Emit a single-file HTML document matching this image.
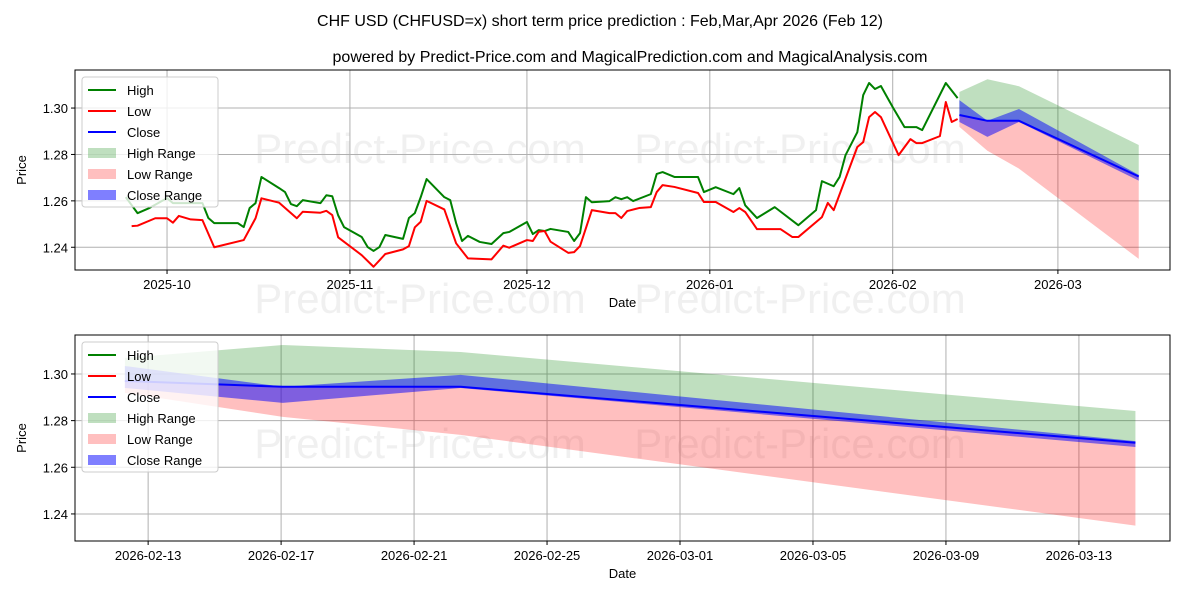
<!DOCTYPE html>
<html><head><meta charset="utf-8"><style>
body{margin:0;background:#fff;}
svg{display:block;font-family:"Liberation Sans","DejaVu Sans",sans-serif;}
</style></head><body>
<svg id="c" width="1200" height="600" viewBox="0 0 1200 600">
<text x="600" y="26" text-anchor="middle" font-size="16">CHF USD (CHFUSD=x) short term price prediction : Feb,Mar,Apr 2026 (Feb 12)</text>
<text x="630" y="62" text-anchor="middle" font-size="16">powered by Predict-Price.com and MagicalPrediction.com and MagicalAnalysis.com</text>
</svg>
<script>
// day offsets from 2025-10-01
const histDays=[-7,-5,-3,0,1,6,7,8,12,13,14,15,16,19,20,21,22,23,26,27,28,29,30,33,34,35,36,37,40,41,42,43,44,47,48,49,50,51,53,55,57,58,61,62,63,64,65,68,69,70,71,72,75,76,77,78,79,82,83,84,86,90,91,93,96,97,98,100,103,107,110,111,113,114,115,117,118,119,120,121,123,125,127,128,132,134];
const highVals=[1.2616,1.2547,1.2569,1.2612,1.2590,1.2590,1.2526,1.2504,1.2504,1.2487,1.2569,1.2590,1.2703,1.2655,1.2638,1.2586,1.2577,1.2603,1.2590,1.2624,1.2620,1.2538,1.2487,1.2444,1.2401,1.2384,1.2401,1.2453,1.2436,1.2526,1.2547,1.2616,1.2694,1.2616,1.2603,1.2504,1.2427,1.2449,1.2423,1.2414,1.2461,1.2466,1.2509,1.2457,1.2474,1.2470,1.2479,1.2466,1.2427,1.2461,1.2616,1.2594,1.2599,1.2616,1.2607,1.2616,1.2599,1.2629,1.2716,1.2724,1.2703,1.2703,1.2638,1.2659,1.2629,1.2655,1.2581,1.2526,1.2573,1.2495,1.2560,1.2685,1.2663,1.2703,1.2797,1.2896,1.3056,1.3108,1.3082,1.3095,1.3004,1.2918,1.2918,1.2905,1.3108,1.3043];
const lowDays=[-6,-5,-2,0,1,2,4,6,8,13,15,16,19,22,23,26,27,28,29,33,35,37,40,41,42,43,44,47,49,51,55,57,58,61,62,63,64,65,68,69,70,72,75,76,77,78,80,82,83,84,86,90,91,93,96,97,98,100,104,106,107,111,112,113,117,118,119,120,121,124,126,127,128,131,132,133,134];
const lowVals=[1.2491,1.2493,1.2525,1.2525,1.2506,1.2535,1.2520,1.2517,1.2400,1.2431,1.2525,1.2611,1.2592,1.2525,1.2553,1.2549,1.2557,1.2539,1.2443,1.2366,1.2316,1.2371,1.2391,1.2405,1.2486,1.2510,1.2600,1.2563,1.2417,1.2352,1.2348,1.2407,1.2398,1.2431,1.2427,1.2467,1.2470,1.2424,1.2376,1.2379,1.2405,1.2560,1.2547,1.2547,1.2526,1.2556,1.2569,1.2573,1.2638,1.2668,1.2660,1.2634,1.2595,1.2595,1.2552,1.2569,1.2552,1.2478,1.2478,1.2444,1.2444,1.2530,1.2591,1.2560,1.2832,1.2853,1.2961,1.2983,1.2961,1.2797,1.2866,1.2849,1.2849,1.2879,1.3026,1.2940,1.2953];
const predDays=[134.3,139.05,144.4,164.7];
const closeVals=[1.2970,1.2945,1.2945,1.2705];
const closeUpper=[1.3034,1.2945,1.2996,1.2712];
const closeLower=[1.2940,1.2876,1.2940,1.2687];
const highUpper=[1.3069,1.3124,1.3094,1.2841];
const lowLower=[1.2919,1.2816,1.2739,1.2350];
const topTickLabels=['2025-10','2025-11','2025-12','2026-01','2026-02','2026-03'];
const topTickDays=[0,31,61,92,123,151];
const botTickLabels=['2026-02-13','2026-02-17','2026-02-21','2026-02-25','2026-03-01','2026-03-05','2026-03-09','2026-03-13'];
const botTickDays=[135,139,143,147,151,155,159,163];
const yTicks=[1.24,1.26,1.28,1.30];

const NS='http://www.w3.org/2000/svg';
const svg=document.getElementById('c');
function mk(t,a,p){const e=document.createElementNS(NS,t);for(const k in a)e.setAttribute(k,a[k]);(p||svg).appendChild(e);return e;}

function panel(P){
  const g=mk('g',{});
  
  
  const X=d=>P.x0+(d-P.d0)/(P.d1-P.d0)*(P.x1-P.x0);
  const Y=v=>P.y1-(v-P.v0)/(P.v1-P.v0)*(P.y1-P.y0);
  const clip='cl'+P.name;
  const cp=mk('clipPath',{id:clip},g);mk('rect',{x:P.x0,y:P.y0,width:P.x1-P.x0,height:P.y1-P.y0},cp);
  P.wm.forEach(w=>{const t=mk('text',{x:w[0],y:w[1],'font-size':42,fill:'#000','fill-opacity':0.06,'text-anchor':'middle'},g);t.textContent='Predict-Price.com';
    });
  P.xd.forEach((d,i)=>{const x=X(d);mk('line',{x1:x,x2:x,y1:P.y0,y2:P.y1,stroke:'#b0b0b0','stroke-width':1},g);
    mk('line',{x1:x,x2:x,y1:P.y1,y2:P.y1+4,stroke:'#000'},g);
    const t=mk('text',{x:x,y:P.y1+19,'font-size':13,'text-anchor':'middle'},g);t.textContent=P.xl[i];
    });
  yTicks.forEach(v=>{const y=Y(v);mk('line',{x1:P.x0,x2:P.x1,y1:y,y2:y,stroke:'#b0b0b0','stroke-width':1},g);
    mk('line',{x1:P.x0-4,x2:P.x0,y1:y,y2:y,stroke:'#000'},g);
    const t=mk('text',{x:P.x0-7,y:y+5,'font-size':13,'text-anchor':'end'},g);t.textContent=v.toFixed(2);
    });
  const cg=mk('g',{'clip-path':'url(#'+clip+')'},g);
  function band(up,lo,col,op,name){let s='';predDays.forEach((d,i)=>s+=(i?'L':'M')+X(d)+','+Y(up[i]));
    for(let i=predDays.length-1;i>=0;i--)s+='L'+X(predDays[i])+','+Y(lo[i]);
    const p=mk('path',{d:s+'Z',fill:col,'fill-opacity':op,stroke:'none'},cg);
    }
  band(highUpper,closeVals,'#008000',0.25,'high-range');
  band(closeVals,lowLower,'#ff0000',0.25,'low-range');
  band(closeUpper,closeLower,'#0000ff',0.5,'close-range');
  function line(ds,vs,col,name){const p=mk('polyline',{points:ds.map((d,i)=>X(d)+','+Y(vs[i])).join(' '),fill:'none',stroke:col,'stroke-width':2,'stroke-linejoin':'round'},cg);
    }
  if(P.hist){
    line(histDays,highVals,'#008000','high-line');
    line(lowDays,lowVals,'#ff0000','low-line');
  }
  line(predDays,closeVals,'#0000ff','close-line');
  mk('rect',{x:P.x0,y:P.y0,width:P.x1-P.x0,height:P.y1-P.y0,fill:'none',stroke:'#000','stroke-width':1},g);
  const xt=mk('text',{x:(P.x0+P.x1)/2,y:P.y1+37,'font-size':13,'text-anchor':'middle'},g);xt.textContent='Date';
  
  const yt=mk('text',{x:0,y:0,'font-size':13,'text-anchor':'middle',transform:'translate(26,'+((P.y0+P.y1)/2)+') rotate(-90)'},g);yt.textContent='Price';
  
  const lg=mk('g',{},g);
  
  const lx=P.x0+7,ly=P.y0+7;
  mk('rect',{x:lx,y:ly,width:136,height:130,rx:3,fill:'#fff','fill-opacity':0.8,stroke:'#ccc'},lg);
  const items=[['High','#008000','l'],['Low','#ff0000','l'],['Close','#0000ff','l'],['High Range','rgba(0,128,0,0.25)','r'],['Low Range','rgba(255,0,0,0.25)','r'],['Close Range','rgba(0,0,255,0.5)','r']];
  items.forEach((it,i)=>{const cy=ly+13+i*21;
    if(it[2]=='l')mk('line',{x1:lx+6,x2:lx+34,y1:cy,y2:cy,stroke:it[1],'stroke-width':2},lg);
    else mk('rect',{x:lx+6,y:cy-5,width:28,height:10,fill:it[1]},lg);
    const t=mk('text',{x:lx+45,y:cy+5,'font-size':13},lg);t.textContent=it[0];
    });
}
panel({name:'history-panel',hist:true,x0:75,x1:1170,y0:70,y1:270,d0:-15.6,d1:170.0,v0:1.2302,v1:1.3164,
  xd:topTickDays,xl:topTickLabels,wm:[[420,163],[800,163],[420,313],[800,313]]});
panel({name:'forecast-panel',hist:false,x0:75,x1:1170,y0:335,y1:541,d0:132.80,d1:165.74,v0:1.2284,v1:1.3167,
  xd:botTickDays,xl:botTickLabels,wm:[[420,458],[800,458]]});
</script>
</body></html>
